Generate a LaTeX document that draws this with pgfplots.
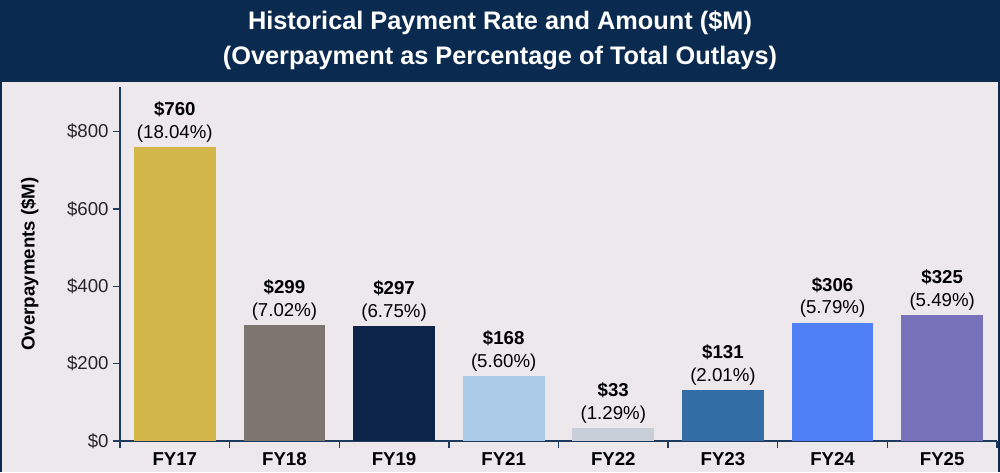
\documentclass[border=0pt]{standalone}
\usepackage{pgfplots}
\pgfplotsset{compat=1.18}
\usepackage{fontspec}
\setmainfont{Liberation Sans}
\definecolor{bg}{HTML}{EDE8EC}
\definecolor{navy}{HTML}{0A2A4F}
\definecolor{axiscol}{HTML}{1F3A5F}
\definecolor{c17}{HTML}{D2B64A}
\definecolor{c18}{HTML}{7D7670}
\definecolor{c19}{HTML}{0C2449}
\definecolor{c21}{HTML}{ABCBE8}
\definecolor{c22}{HTML}{C9CFD8}
\definecolor{c23}{HTML}{336DA6}
\definecolor{c24}{HTML}{5080F5}
\definecolor{c25}{HTML}{7772B9}
\begin{document}
\begin{tikzpicture}[x=0.75pt,y=0.75pt]
\useasboundingbox (0,0) rectangle (1000,472);
\fill[bg] (0,0) rectangle (1000,472);
\fill[navy] (0,390) rectangle (1000,472);
\draw[navy,line width=1.5pt] (0.75,0) -- (0.75,471.25) -- (999.25,471.25) -- (999.25,0);
\node[text=white,font=\bfseries\fontsize{19}{22}\selectfont] at (500,449) {Historical Payment Rate and Amount (\$M)};
\node[text=white,font=\bfseries\fontsize{19}{22}\selectfont] at (500,414) {(Overpayment as Percentage of Total Outlays)};
\begin{axis}[
  at={(90pt,23.25pt)}, anchor=south west,
  scale only axis,
  width=657.75pt, height=265.5pt,
  xmin=-0.5, xmax=7.5, ymin=0, ymax=915,
  axis x line=bottom, axis y line=left,
  axis line style={-, draw=axiscol, line width=1pt},
  xtick={0,...,7},
  xticklabels={FY17,FY18,FY19,FY21,FY22,FY23,FY24,FY25},
  minor xtick={-0.5,0.5,...,7.5},
  major x tick style={draw=none},
  minor x tick style={draw=axiscol, line width=1pt},
  ytick={0,200,400,600,800},
  yticklabels={\$0,\$200,\$400,\$600,\$800},
  major y tick style={draw=axiscol, line width=1pt},
  tick align=outside,
  major tick length=5pt, minor tick length=5pt,
  x tick label style={font=\bfseries\fontsize{14}{16}\selectfont, text=black, yshift=0pt},
  y tick label style={font=\fontsize{14}{16}\selectfont, text=black!85},
  ylabel={Overpayments (\$M)},
  ylabel style={font=\bfseries\fontsize{14}{16}\selectfont, text=black, at={(axis description cs:-0.103,0.5)}, anchor=center},
  ybar, bar width=0.745, bar shift=0pt,
  nodes near coords style={font=\fontsize{14}{17}\selectfont, text=black, align=center, anchor=south, inner sep=3.5pt},
  clip=false,
]
\addplot[fill=c17,draw=none,nodes near coords={\textbf{\$760}\\(18.04\%)}] coordinates {(0,760)};
\addplot[fill=c18,draw=none,nodes near coords={\textbf{\$299}\\(7.02\%)}] coordinates {(1,299)};
\addplot[fill=c19,draw=none,nodes near coords={\textbf{\$297}\\(6.75\%)}] coordinates {(2,297)};
\addplot[fill=c21,draw=none,nodes near coords={\textbf{\$168}\\(5.60\%)}] coordinates {(3,168)};
\addplot[fill=c22,draw=none,nodes near coords={\textbf{\$33}\\(1.29\%)}] coordinates {(4,33)};
\addplot[fill=c23,draw=none,nodes near coords={\textbf{\$131}\\(2.01\%)}] coordinates {(5,131)};
\addplot[fill=c24,draw=none,nodes near coords={\textbf{\$306}\\(5.79\%)}] coordinates {(6,306)};
\addplot[fill=c25,draw=none,nodes near coords={\textbf{\$325}\\(5.49\%)}] coordinates {(7,325)};
\end{axis}
\end{tikzpicture}
\end{document}
